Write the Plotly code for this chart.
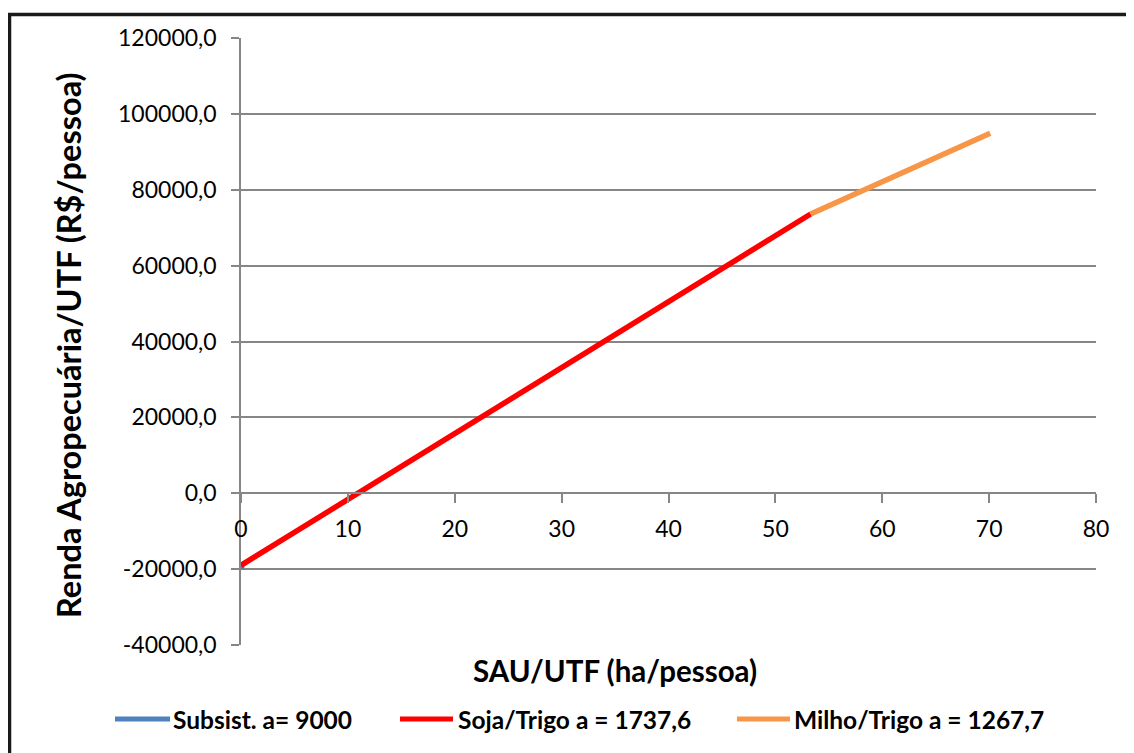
import plotly.graph_objects as go

# ---- data ----
series_names = ["Subsist. a= 9000", "Soja/Trigo a = 1737,6", "Milho/Trigo a = 1267,7"]
subsist_x = [0, 0.1]
subsist_y = [-20000, -19100]
soja_x = [0, 53.3]
soja_y = [-19000, 73600]
milho_x = [53.3, 70.1]
milho_y = [73600, 94900]

y_tickvals = [-40000, -20000, 0, 20000, 40000, 60000, 80000, 100000, 120000]
y_ticktext = ["-40000,0", "-20000,0", "0,0", "20000,0", "40000,0", "60000,0",
              "80000,0", "100000,0", "120000,0"]
x_tickvals = [0, 10, 20, 30, 40, 50, 60, 70, 80]

colors = ["#4F81BD", "#FF0000", "#F79646"]

FONT = "Lato"
OFF = 8  # page body margin
W, H = 1134 - OFF, 753 - OFF
# plot area in page pixel coordinates
PL, PR, PT, PB = 241, 1096, 38, 645


def px_x(p):
    return (p - PL) / (PR - PL)


def px_y(p):
    return (PB - p) / (PB - PT)


fig = go.Figure()
for name, xs, ys, c in zip(series_names, [subsist_x, soja_x, milho_x],
                           [subsist_y, soja_y, milho_y], colors):
    fig.add_trace(go.Scatter(x=xs, y=ys, mode="lines", name=name, showlegend=False,
                             line=dict(color=c, width=5.5)))

ymin, ymax = -40000, 120000

# manual legend (page pixel positions of the legend entries)
leg_line_x = [(115, 170), (400, 453), (737, 790)]
leg_text_x = [171, 456, 792]
leg_y = 719
shapes = [
    dict(type="line", xref="paper", yref="paper", x0=px_x(9.5), x1=px_x(9.5),
         y0=px_y(14.5), y1=px_y(800), line=dict(color="#1a1a1a", width=3.5)),
    dict(type="line", xref="paper", yref="paper", x0=px_x(8), x1=px_x(1200),
         y0=px_y(14.5), y1=px_y(14.5), line=dict(color="#1a1a1a", width=3.5)),
]
annotations = [
    dict(text="<b>SAU/UTF (ha/pessoa)</b>", xref="paper", yref="paper",
         x=px_x(615), y=px_y(670), xanchor="center", yanchor="middle",
         showarrow=False, font=dict(family=FONT, size=29.5, color="black")),
    dict(text="<b>Renda Agropecuária/UTF (R$/pessoa)</b>", xref="paper", yref="paper",
         x=px_x(68), y=px_y(345), xanchor="center", yanchor="middle", textangle=-90,
         showarrow=False, font=dict(family=FONT, size=32.5, color="black")),
]
for name, c, (x0, x1), tx in zip(series_names, colors, leg_line_x, leg_text_x):
    shapes.append(dict(type="line", xref="paper", yref="paper", x0=px_x(x0), x1=px_x(x1),
                       y0=px_y(leg_y), y1=px_y(leg_y), line=dict(color=c, width=5)))
    annotations.append(dict(text="<b>" + name + "</b>", xref="paper", yref="paper",
                            x=px_x(tx), y=px_y(leg_y), xanchor="left", yanchor="middle",
                            showarrow=False,
                            font=dict(family=FONT, size=24.5, color="black")))

fig.update_layout(
    width=W, height=H,
    margin=dict(l=PL - OFF, r=W - (PR - OFF), t=PT - OFF, b=H - (PB - OFF)),
    paper_bgcolor="white", plot_bgcolor="white",
    font=dict(family=FONT, color="black", size=23),
    showlegend=False,
    xaxis=dict(range=[0, 80], tickvals=x_tickvals, showgrid=False, zeroline=False,
               showline=True, linecolor="#868686", linewidth=1.5,
               ticks="outside", ticklen=9, tickcolor="#868686", tickwidth=1.5,
               anchor="free", position=(0 - ymin) / (ymax - ymin),
               tickfont=dict(family=FONT, size=23), ticklabelstandoff=6),
    yaxis=dict(range=[ymin, ymax], tickvals=y_tickvals, ticktext=y_ticktext,
               showgrid=True, gridcolor="#868686", gridwidth=1.5, zeroline=False,
               showline=True, linecolor="#868686", linewidth=1.5,
               ticks="outside", ticklen=8, tickcolor="#868686", tickwidth=1.5,
               tickfont=dict(family=FONT, size=23), ticklabelstandoff=10),
    annotations=annotations,
    shapes=shapes,
)

fig.write_html("out.html")
